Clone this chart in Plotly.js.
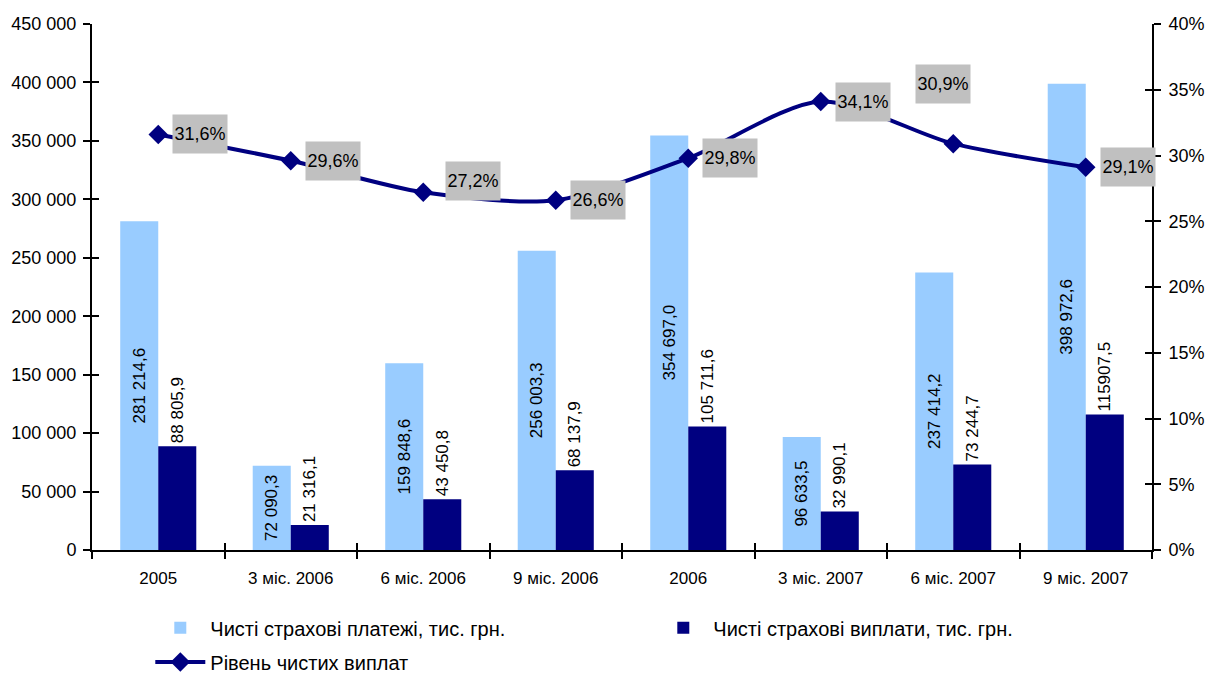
<!DOCTYPE html>
<html>
<head>
<meta charset="utf-8">
<script src="https://cdn.plot.ly/plotly-3.0.1.min.js"></script>
<style>html,body{margin:0;padding:0;background:#fff;}#chart{width:1206px;height:675px;}</style>
</head>
<body>
<div id="chart"></div>
<script>
const categories = ["2005", "3 міс. 2006", "6 міс. 2006", "9 міс. 2006", "2006", "3 міс. 2007", "6 міс. 2007", "9 міс. 2007"];
const netPayments = [281214.6, 72090.3, 159848.6, 256003.3, 354697.0, 96633.5, 237414.2, 398972.6];
const netPayouts = [88805.9, 21316.1, 43450.8, 68137.9, 105711.6, 32990.1, 73244.7, 115907.5];
const paymentLabels = ["281 214,6", "72 090,3", "159 848,6", "256 003,3", "354 697,0", "96 633,5", "237 414,2", "398 972,6"];
const payoutLabels = ["88 805,9", "21 316,1", "43 450,8", "68 137,9", "105 711,6", "32 990,1", "73 244,7", "115907,5"];
const payoutRatio = [0.316, 0.296, 0.272, 0.266, 0.298, 0.341, 0.309, 0.291];
const seriesNames = ["Чисті страхові платежі, тис. грн.", "Чисті страхові виплати, тис. грн.", "Рівень чистих виплат"];

const FONT = "Liberation Sans, Arial, sans-serif";
const ratioLabel = v => (v * 100).toFixed(1).replace('.', ',') + '%';

const traces = [
  {
    type: 'bar', name: seriesNames[0], x: categories, y: netPayments,
    marker: {color: '#99CCFF'},
    text: paymentLabels, textposition: 'inside', insidetextanchor: 'middle',
    textangle: -90, constraintext: 'none',
    insidetextfont: {family: FONT, size: 17, color: '#000'},
    hoverinfo: 'skip', legend: 'legend'
  },
  {
    type: 'bar', name: seriesNames[1], x: categories, y: netPayouts,
    marker: {color: '#000080'},
    text: payoutLabels, textposition: 'outside',
    textangle: -90, constraintext: 'none', cliponaxis: false,
    outsidetextfont: {family: FONT, size: 17, color: '#000'},
    hoverinfo: 'skip', legend: 'legend'
  },
  {
    type: 'scatter', mode: 'lines+markers', name: seriesNames[2], x: categories, y: payoutRatio,
    yaxis: 'y2',
    line: {color: '#000080', width: 4, shape: 'spline', smoothing: 0.8},
    marker: {symbol: 'diamond', size: 15, color: '#000080'},
    hoverinfo: 'skip', legend: 'legend2'
  },
  // empty helper traces so that the inner tick-mark axes get drawn (cross-shaped ticks)
  {type: 'scatter', x: [], y: [], xaxis: 'x2', yaxis: 'y3', showlegend: false, hoverinfo: 'skip'},
  {type: 'scatter', x: [], y: [], xaxis: 'x2', yaxis: 'y4', showlegend: false, hoverinfo: 'skip'}
];

const labelOffsets = categories.map((c, i) => {
  if (i === 6) return {xanchor: 'center', xshift: -10, yshift: 60};
  if (i === 2) return {xanchor: 'left', xshift: 22, yshift: 11};
  return {xanchor: 'left', xshift: 14, yshift: 0};
});

const annotations = categories.map((c, i) => Object.assign({
  x: i, y: payoutRatio[i], xref: 'x', yref: 'y2',
  text: ratioLabel(payoutRatio[i]), showarrow: false,
  bgcolor: '#C0C0C0', width: 54, height: 38, borderpad: 0,
  yanchor: 'middle',
  font: {family: FONT, size: 18, color: '#000'}
}, labelOffsets[i]));

const legendFont = {family: FONT, size: 20, color: '#000'};
const tickStyle = {ticklen: 7, tickwidth: 2, tickcolor: '#000', showgrid: false, zeroline: false};

const layout = {
  width: 1206, height: 675,
  margin: {l: 92, r: 54, t: 24, b: 125, autoexpand: false},
  paper_bgcolor: '#fff', plot_bgcolor: '#fff',
  separators: ', ',
  barmode: 'group', bargap: 0.426, bargroupgap: 0,
  showlegend: true,
  font: {family: FONT, size: 16, color: '#000'},
  xaxis: Object.assign({
    type: 'category', range: [-0.5, 7.5], autorange: false,
    showline: true, linecolor: '#000', linewidth: 2,
    ticks: 'outside', tickson: 'boundaries', tickangle: 0, ticklabelstandoff: 12,
    tickfont: {family: FONT, size: 17, color: '#000'}
  }, tickStyle),
  xaxis2: Object.assign({
    type: 'linear', range: [-0.5, 7.5], autorange: false, overlaying: 'x', anchor: 'y3', side: 'bottom',
    tick0: -0.5, dtick: 1, ticks: 'inside', showticklabels: false, showline: false
  }, tickStyle),
  yaxis: Object.assign({
    range: [0, 450000], dtick: 50000, tickformat: ',d',
    showline: true, linecolor: '#000', linewidth: 2,
    ticks: 'outside', ticklabelstandoff: 3,
    tickfont: {family: FONT, size: 18, color: '#000'}
  }, tickStyle),
  yaxis2: Object.assign({
    range: [0, 0.4], dtick: 0.05, tickformat: '.0%',
    overlaying: 'y', side: 'right', anchor: 'x',
    showline: true, linecolor: '#000', linewidth: 2,
    ticks: 'outside', ticklabelstandoff: 4,
    tickfont: {family: FONT, size: 18, color: '#000'}
  }, tickStyle),
  yaxis3: Object.assign({
    range: [0, 450000], autorange: false, dtick: 50000, overlaying: 'y', side: 'left', anchor: 'x2',
    ticks: 'inside', showticklabels: false, showline: false
  }, tickStyle),
  yaxis4: Object.assign({
    range: [0, 0.4], autorange: false, dtick: 0.05, overlaying: 'y', side: 'right', anchor: 'x2',
    ticks: 'inside', showticklabels: false, showline: false
  }, tickStyle),
  legend: {
    orientation: 'h', x: 0.055, y: -0.148, xanchor: 'left', yanchor: 'middle',
    entrywidth: 438, entrywidthmode: 'pixels', traceorder: 'normal',
    font: legendFont, itemwidth: 50
  },
  legend2: {
    orientation: 'h', x: 0.055, y: -0.213, xanchor: 'left', yanchor: 'middle',
    font: legendFont, itemwidth: 50
  },
  annotations: annotations
};

Plotly.newPlot('chart', traces, layout, {staticPlot: true, displayModeBar: false});
</script>
</body>
</html>
